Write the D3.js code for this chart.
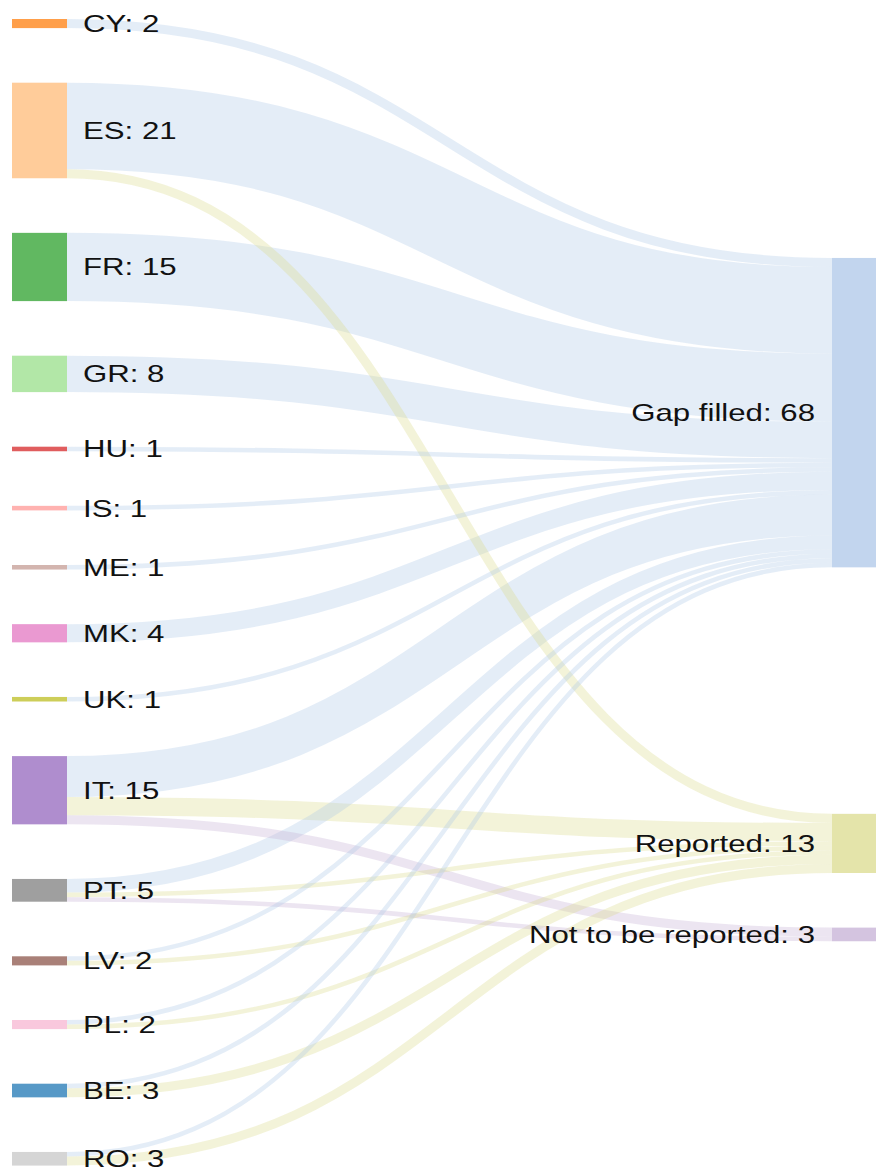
<!DOCTYPE html>
<html>
<head>
<meta charset="utf-8">
<script src="https://cdn.jsdelivr.net/npm/d3@7"></script>
<style>
  body { margin: 0; background: #fff; }
  svg { display: block; }
  .label { font-family: "Liberation Sans", Arial, sans-serif; font-size: 24px; fill: #111; }
</style>
</head>
<body>
<svg id="sankey"></svg>
<script>
// Source countries (left column), in drawing order
const sources = ["CY", "ES", "FR", "GR", "HU", "IS", "ME", "MK", "UK", "IT", "PT", "LV", "PL", "BE", "RO"];
// Outcomes (right column)
const targets = ["Gap filled", "Reported", "Not to be reported"];

// Flow values from each source to each outcome
const toGapFilled   = [2, 19, 15, 8, 1, 1, 1, 4, 1, 9, 3, 1, 1, 1, 1];
const toReported    = [0,  2,  0, 0, 0, 0, 0, 0, 0, 4, 1, 1, 1, 2, 2];
const toNotReported = [0,  0,  0, 0, 0, 0, 0, 0, 0, 2, 1, 0, 0, 0, 0];

// category20-style colour assignment
const colorOrder = ["BE", "Gap filled", "CY", "ES", "FR", "GR", "HU", "IS", "IT", "Not to be reported",
                    "LV", "ME", "MK", "PL", "PT", "RO", "UK", "Reported"];
const palette = ["#1f77b4", "#aec7e8", "#ff7f0e", "#ffbb78", "#2ca02c", "#98df8a", "#d62728", "#ff9896",
                 "#9467bd", "#c5b0d5", "#8c564b", "#c49c94", "#e377c2", "#f7b6d2", "#7f7f7f", "#c7c7c7",
                 "#bcbd22", "#dbdb8d", "#17becf", "#9edae5"];
const color = d3.scaleOrdinal().domain(colorOrder).range(palette);

// dimensions
const width = 876, height = 1170;
const nodeWidth = 55, nodePadding = 54.6;
const extent = { left: 12, right: 887, top: 19, bottom: 1165.6 };
const textScaleX = 1.3;

const svg = d3.select("#sankey").attr("width", width).attr("height", height);

// build nodes and links
const nodes = sources.map(name => ({ name, col: 0 }))
  .concat(targets.map(name => ({ name, col: 1 })));
const byName = new Map(nodes.map(n => [n.name, n]));
const flows = [toGapFilled, toReported, toNotReported];
const links = [];
sources.forEach((s, i) => {
  flows.forEach((arr, j) => {
    if (arr[i] > 0) links.push({ source: byName.get(s), target: byName.get(targets[j]), value: arr[i] });
  });
});
nodes.forEach(n => {
  n.sourceLinks = links.filter(l => l.source === n);
  n.targetLinks = links.filter(l => l.target === n);
  n.value = Math.max(d3.sum(n.sourceLinks, l => l.value), d3.sum(n.targetLinks, l => l.value));
});

// horizontal positions
const xCol = d3.scaleLinear().domain([0, 1]).range([extent.left, extent.right - nodeWidth]);
nodes.forEach(n => { n.x0 = xCol(n.col); n.x1 = n.x0 + nodeWidth; });

// vertical scale: left column fills the full height
const leftNodes = nodes.filter(n => n.col === 0);
const rightNodes = nodes.filter(n => n.col === 1);
const ky = (extent.bottom - extent.top - (leftNodes.length - 1) * nodePadding) / d3.sum(leftNodes, n => n.value);

let y = extent.top;
leftNodes.forEach(n => { n.y0 = y; n.y1 = y + n.value * ky; y = n.y1 + nodePadding; });

// source-side link positions (ordered by target)
leftNodes.forEach(n => {
  let sy = n.y0;
  n.sourceLinks.forEach(l => { l.width = l.value * ky; l.sy0 = sy; sy += l.width; });
});

// right nodes centred on the weighted mean of their incoming links, then de-overlapped
rightNodes.forEach(n => {
  const c = d3.sum(n.targetLinks, l => (l.sy0 + l.width / 2) * l.value) / n.value;
  n.y0 = c - n.value * ky / 2;
  n.y1 = n.y0 + n.value * ky;
});
let prevBottom = -Infinity;
rightNodes.forEach(n => {
  const shift = prevBottom + nodePadding - n.y0;
  if (shift > 0) { n.y0 += shift; n.y1 += shift; }
  prevBottom = n.y1;
});

// target-side link positions (ordered by source)
rightNodes.forEach(n => {
  let ty = n.y0;
  n.targetLinks.forEach(l => { l.ty0 = ty; ty += l.width; });
});

// links
const linkPath = d3.linkHorizontal()
  .source(d => [d.source.x1, d.sy0 + d.width / 2])
  .target(d => [d.target.x0, d.ty0 + d.width / 2]);

svg.append("g")
  .attr("fill", "none")
  .selectAll("path")
  .data(links.slice().sort((a, b) => b.width - a.width))
  .join("path")
  .attr("d", linkPath)
  .attr("stroke", d => color(d.target.name))
  .attr("stroke-opacity", 0.33)
  .attr("stroke-width", d => Math.max(1, d.width));

// nodes
svg.append("g")
  .selectAll("rect")
  .data(nodes)
  .join("rect")
  .attr("x", d => d.x0)
  .attr("y", d => d.y0)
  .attr("width", d => d.x1 - d.x0)
  .attr("height", d => Math.max(1, d.y1 - d.y0))
  .attr("fill", d => color(d.name))
  .attr("fill-opacity", 0.75);

// labels
svg.append("g")
  .selectAll("text")
  .data(nodes)
  .join("text")
  .attr("class", "label")
  .attr("transform", d => {
    const tx = d.col === 0 ? d.x1 + 16 : d.x0 - 17;
    return `translate(${tx},${(d.y0 + d.y1) / 2}) scale(${textScaleX},1)`;
  })
  .attr("dy", "0.35em")
  .attr("text-anchor", d => d.col === 0 ? "start" : "end")
  .text(d => `${d.name}: ${d.value}`);
</script>
</body>
</html>
